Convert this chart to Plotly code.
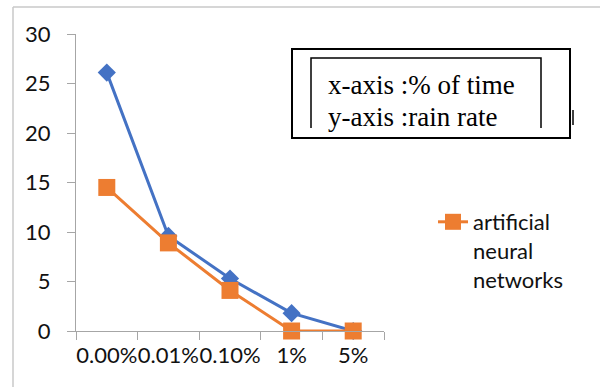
import plotly.graph_objects as go

categories = ["0.00%", "0.01%", "0.10%", "1%", "5%"]
series_blue = [26.1, 9.6, 5.3, 1.8, 0.0]
series_orange = [14.5, 8.9, 4.1, 0.0, 0.0]
orange_name = "artificial<br>neural<br>networks"
y_ticks = [0, 5, 10, 15, 20, 25, 30]

W, H = 600, 387
L, R, T, B = 76, 384, 34, 331


def px(x):
    return (x - L) / (R - L)


def py(y):
    return (B - y) / (B - T)


fig = go.Figure()
fig.add_trace(go.Scatter(
    x=categories, y=series_blue, mode="lines+markers", showlegend=False,
    line=dict(color="#4472C4", width=3),
    marker=dict(symbol="diamond", size=14, color="#4472C4"),
    cliponaxis=False,
))
fig.add_trace(go.Scatter(
    x=categories, y=series_orange, mode="lines+markers", name=orange_name,
    line=dict(color="#ED7D31", width=3),
    marker=dict(symbol="square", size=17, color="#ED7D31"),
    cliponaxis=False,
))

axis_font = dict(family="Lato, Calibri, sans-serif", size=22, color="#111111")

fig.update_layout(
    width=W, height=H,
    margin=dict(l=L, r=W - R, t=T, b=H - B, autoexpand=False),
    paper_bgcolor="white", plot_bgcolor="white",
    xaxis=dict(
        type="category", range=[-0.5, 4.5], showgrid=False, zeroline=False,
        showline=True, linecolor="#a6a6a6", linewidth=1.3,
        ticks="outside", ticklen=8, tickcolor="#a6a6a6", tickwidth=1.3,
        tickson="boundaries", tickangle=0, tickfont=axis_font,
        ticklabelstandoff=4, automargin=False,
    ),
    yaxis=dict(
        range=[0, 30], tickvals=y_ticks, showgrid=False, zeroline=False,
        showline=True, linecolor="#a6a6a6", linewidth=1.3,
        ticks="outside", ticklen=8, tickcolor="#a6a6a6", tickwidth=1.3,
        tickfont=axis_font, ticklabelstandoff=12, automargin=False,
    ),
    legend=dict(
        xref="container", yref="container",
        x=433 / W, y=1 - 201 / H, xanchor="left", yanchor="top",
        font=dict(family="Lato, Calibri, sans-serif", size=22, color="#111111"),
        valign="top", bgcolor="rgba(0,0,0,0)",
    ),
    showlegend=True,
)

shapes = [
    # outer frame
    dict(type="line", xref="paper", yref="paper", x0=px(13), x1=px(600), y0=py(7), y1=py(7),
         line=dict(color="#c8c8c8", width=1.5)),
    dict(type="line", xref="paper", yref="paper", x0=px(13), x1=px(13), y0=py(7), y1=py(387),
         line=dict(color="#c8c8c8", width=1.5)),
    # text box
    dict(type="rect", xref="paper", yref="paper", x0=px(292), x1=px(570), y0=py(49), y1=py(138),
         line=dict(color="black", width=2), fillcolor="white", layer="above"),
    dict(type="path", xref="paper", yref="paper",
         path=f"M {px(311)},{py(128)} L {px(311)},{py(58)} L {px(541)},{py(58)} L {px(541)},{py(128)}",
         line=dict(color="black", width=1.5), layer="above"),
    dict(type="line", xref="paper", yref="paper", x0=px(573), x1=px(573), y0=py(110), y1=py(125),
         line=dict(color="black", width=1.5)),
]
fig.update_layout(shapes=shapes)

box_font = dict(family="Liberation Serif, Times New Roman, serif", size=27, color="black")
fig.add_annotation(text="x-axis :% of time", xref="paper", yref="paper", x=px(326), y=py(85),
                   xanchor="left", yanchor="middle", showarrow=False, font=box_font)
fig.add_annotation(text="y-axis :rain rate", xref="paper", yref="paper", x=px(326), y=py(117),
                   xanchor="left", yanchor="middle", showarrow=False, font=box_font)

fig.write_html(
    "out.html",
    config={"displayModeBar": False},
    post_script="document.body.style.margin='0';document.body.style.overflow='hidden';",
)
